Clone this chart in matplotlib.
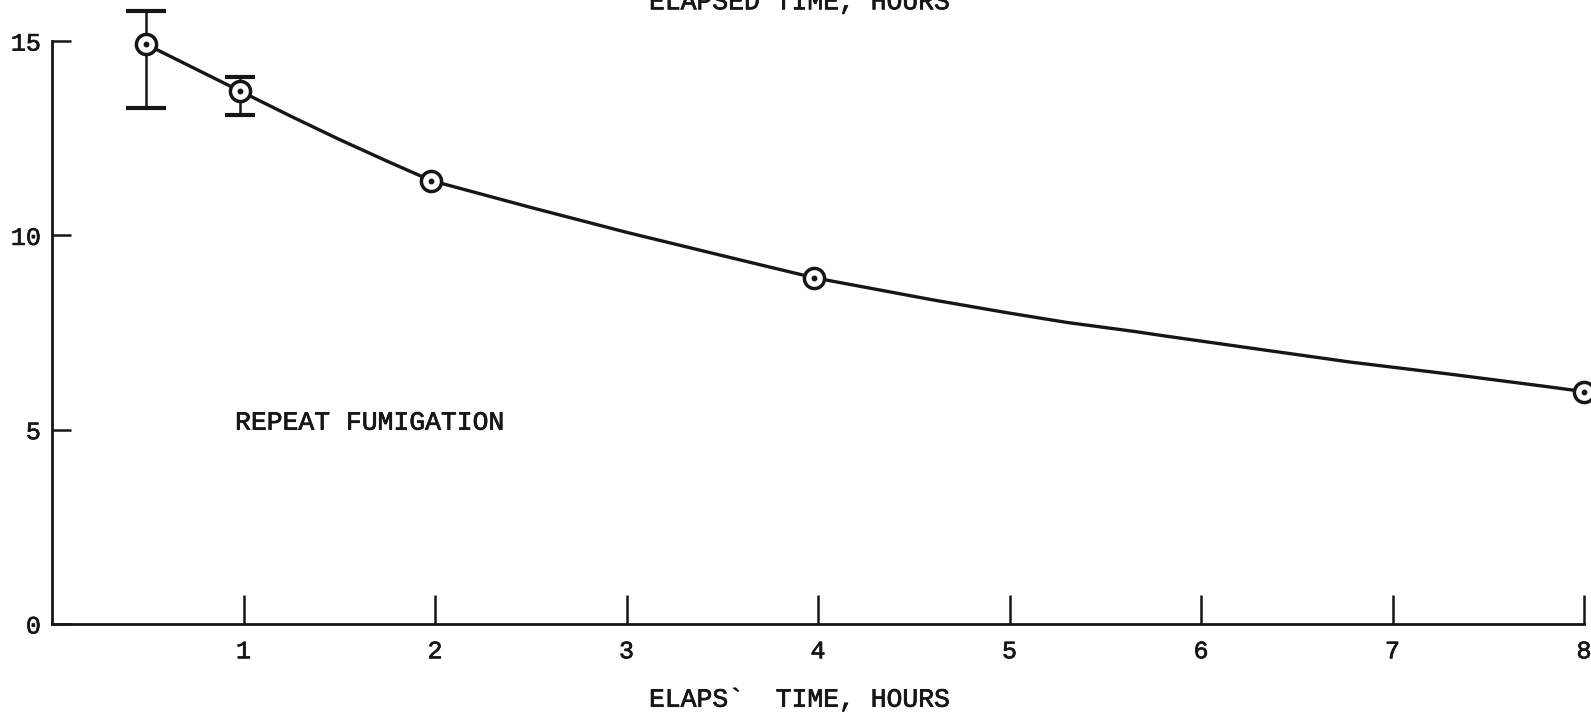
"""
Residue decline after repeat fumigation, plotted against elapsed time.
"""

import matplotlib
matplotlib.use("Agg")
import matplotlib.pyplot as plt
import matplotlib.patheffects as pe

INK = "#161616"
FONT = "Liberation Mono"
# typewriter strokes are a little heavier than the plain face
HEAVY = [pe.withStroke(linewidth=0.5, foreground=INK)]

# measured points (hours, concentration) with spread where it was recorded
hours     = [0.49, 0.98, 1.98, 3.98, 8.0]
residue   = [14.92, 13.72, 11.41, 8.91, 5.98]
err_hours = [0.49, 0.98]
err_low   = [13.27, 13.10]
err_high  = [15.77, 14.08]

# hand-faired curve through the points
curve_hours   = [0.49, 0.98, 1.25, 1.50, 1.75, 1.98, 2.50, 3.00, 3.50,
                 3.98, 4.60, 5.00, 5.30, 5.65, 5.80, 6.26, 6.78, 7.30,
                 7.82, 8.0]
curve_residue = [14.92, 13.72, 13.06, 12.47, 11.91, 11.41, 10.72, 10.08,
                 9.48, 8.91, 8.34, 8.00, 7.76, 7.53, 7.42, 7.10, 6.74,
                 6.43, 6.10, 5.98]

x_ticks = [1, 2, 3, 4, 5, 6, 7, 8]
y_ticks = [0, 5, 10, 15]

fig = plt.figure(figsize=(15.91, 7.13), dpi=100)
ax = fig.add_axes([52 / 1591, 89 / 713, 1532 / 1591, 582.9 / 713])

ax.plot(curve_hours, curve_residue, color=INK, lw=2.4, clip_on=False,
        solid_joinstyle="round", zorder=2)

# error bars: the first one is drawn with wider caps
for xh, lo, hi, cap in zip(err_hours, err_low, err_high, [14.5, 10.5]):
    mid = residue[hours.index(xh)]
    ax.errorbar([xh], [mid], yerr=[[mid - lo], [hi - mid]], fmt="none",
                ecolor=INK, elinewidth=1.8, capsize=cap, capthick=3.0,
                clip_on=False, zorder=2)

ax.plot(hours, residue, ls="none", marker="o", ms=14.5, mfc="white",
        mec=INK, mew=2.5, clip_on=False, zorder=3)
ax.plot(hours, residue, ls="none", marker="o", ms=3.2, color=INK,
        clip_on=False, zorder=4)

ax.set_xlim(0, 8)
ax.set_ylim(0, 15)
ax.set_xticks(x_ticks)
ax.set_yticks(y_ticks)
ax.set_xticklabels([str(t) for t in x_ticks], family=FONT, fontsize=18)
ax.set_yticklabels([str(t) for t in y_ticks], family=FONT, fontsize=18)
for lab in ax.get_xticklabels() + ax.get_yticklabels():
    lab.set_path_effects(HEAVY)
ax.tick_params(axis="x", direction="in", length=21, width=1.8, color=INK,
               pad=11, labelcolor=INK)
ax.tick_params(axis="y", direction="in", length=13.5, width=1.8, color=INK,
               pad=8, labelcolor=INK)
ax.spines[["top", "right"]].set_visible(False)
for side in ("left", "bottom"):
    ax.spines[side].set_linewidth(2.0)
    ax.spines[side].set_color(INK)
ax.patch.set_alpha(0)

ax.text(0.956, 5.0, "REPEAT FUMIGATION", family=FONT, fontsize=19,
        color=INK, ha="left", va="baseline", path_effects=HEAVY)

# axis title at the foot, and the one from the panel above bleeding in at the top
fig.text(649 / 1591, (713 - 706.7) / 713, "ELAPS`  TIME, HOURS", family=FONT,
         fontsize=19, color=INK, ha="left", va="baseline", path_effects=HEAVY)
fig.text(649 / 1591, (713 - 9.3) / 713, "ELAPSED TIME, HOURS", family=FONT,
         fontsize=19, color=INK, ha="left", va="baseline", path_effects=HEAVY)

fig.savefig("out.png", dpi=100, facecolor="white")
